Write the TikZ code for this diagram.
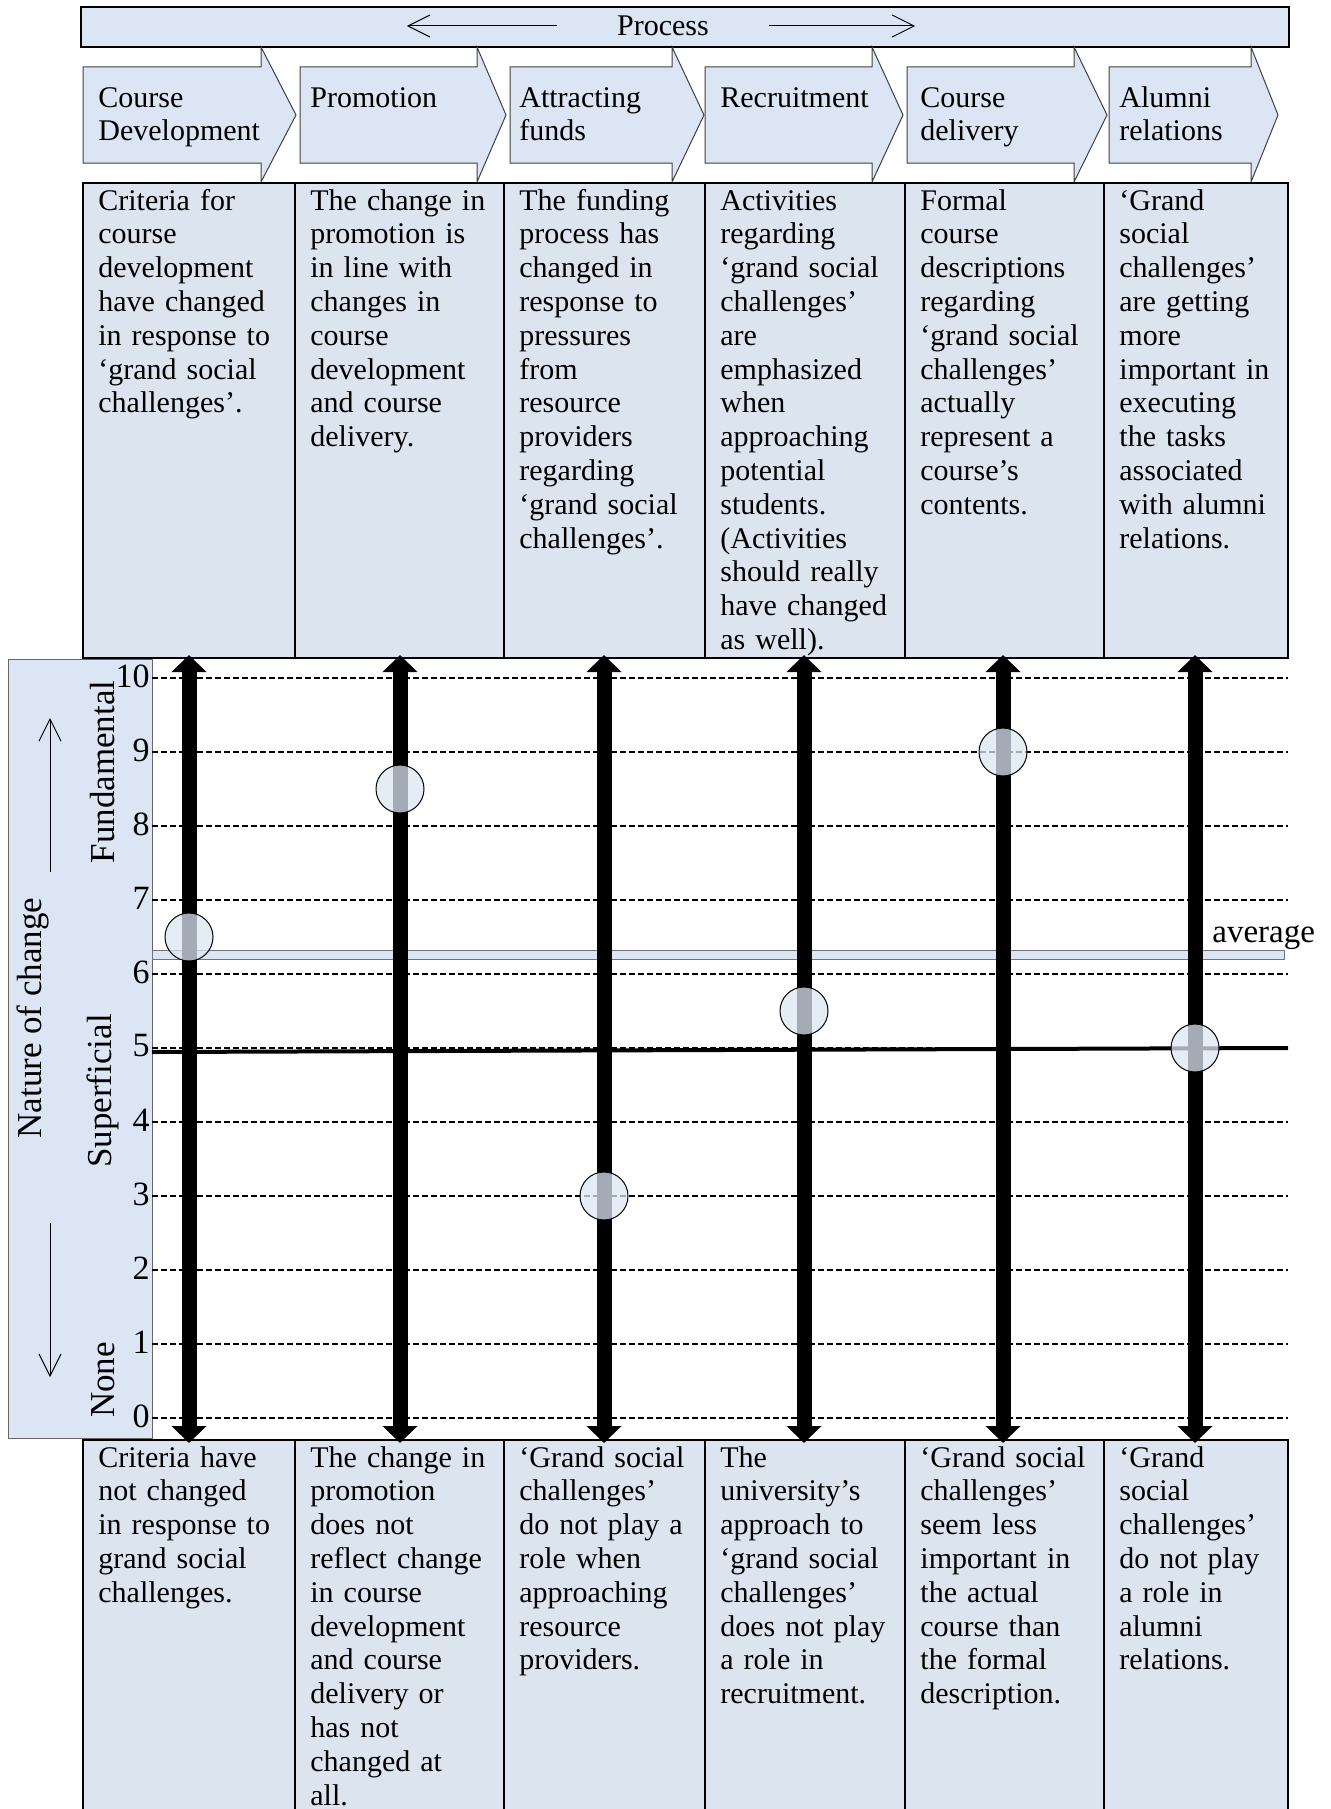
\documentclass[tikz,border=0pt]{standalone}
\usepackage{fontspec}
\setmainfont{Liberation Serif}
\usetikzlibrary{arrows.meta,positioning}
\definecolor{paleblue}{RGB}{219,229,243}
\definecolor{cellblue}{RGB}{220,228,240}

\begin{document}
\begin{tikzpicture}[x=0.5pt, y=-0.5pt,
		bar/.style={draw, line width=0.85pt, fill=paleblue, inner sep=0pt},
		chev/.style={draw=black!75, line width=0.5pt, fill=paleblue},
		cell/.style={draw, line width=0.8pt, fill=cellblue},
		txt/.style={anchor=north west, inner sep=0pt, text width=98pt, align=left, font=\fontsize{15}{16.9}\selectfont, execute at begin node={\strut}},
		gridline/.style={dash pattern=on 3pt off 1.5pt, line width=0.7pt},
		bigarrow/.style={line width=7.5pt, {Triangle[width=17pt,length=8.5pt]}-{Triangle[width=17pt,length=8.5pt]}},
		thinarrow/.style={line width=0.5pt, -{Straight Barb[length=11pt,width=11pt]}},
		score/.style={circle, draw, line width=0.5pt, fill=paleblue, fill opacity=0.75, minimum size=24pt, inner sep=0pt},
		numlab/.style={anchor=east, inner sep=0pt, font=\fontsize{17}{17}\selectfont},
		axislab/.style={rotate=90, inner sep=0pt, font=\fontsize{17.5}{17.5}\selectfont}]
	\useasboundingbox (0,0) rectangle (1330,1809);
	
	\node[bar, anchor=north west, minimum width=604pt, minimum height=20pt] (proc) at (80,6) {};
	\node[inner sep=0pt, font=\fontsize{15}{15}\selectfont] (plabel) at (663,26) {Process};
	\draw[thinarrow] ([xshift=-30pt]plabel.west) -- ++(-150,0);
	\draw[thinarrow] ([xshift=30pt]plabel.east) -- ++(146,0);
	
	\foreach \l/\n/\t/\c/\name [count=\i] in {83/261/296/83/{Course\\Development}, 300/477/506/295/Promotion, 510/672/704/504/{Attracting\\funds}, 705/872/903/705/Recruitment, 907/1074/1107/905/{Course\\delivery}, 1109/1251/1278/1104/{Alumni\\relations}} {
		\draw[chev] (\l,67) -- (\n,67) -- (\n,47) -- (\t,115) -- (\n,182) -- (\n,163) -- (\l,163) -- cycle;
		\node[txt] (ph\i) at (\c+15,83) {\name};
	}
	
	\foreach \a/\b in {83/295, 295/504, 504/705, 705/905, 905/1104, 1104/1288} {
		\draw[cell] (\a,183) rectangle (\b,658);
		\draw[cell] (\a,1440) rectangle (\b,1840);
	}
	
	\foreach \x/\desc [count=\i] in {
		83/{Criteria for\\course\\development\\have changed\\in response to\\‘grand social\\challenges’.},
		295/{The change in\\promotion is\\in line with\\changes in\\course\\development\\and course\\delivery.},
		504/{The funding\\process has\\changed in\\response to\\pressures\\from\\resource\\providers\\regarding\\‘grand social\\challenges’.},
		705/{Activities\\regarding\\‘grand social\\challenges’\\are\\emphasized\\when\\approaching\\potential\\students.\\(Activities\\should really\\have changed\\as well).},
		905/{Formal\\course\\descriptions\\regarding\\‘grand social\\challenges’\\actually\\represent a\\course’s\\contents.},
		1104/{‘Grand\\social\\challenges’\\are getting\\more\\important in\\executing\\the tasks\\associated\\with alumni\\relations.}}
		\node[txt] (top\i) at (\x+15,186) {\desc};
	
	\foreach \x/\desc [count=\i] in {
		83/{Criteria have\\not changed\\in response to\\grand social\\challenges.},
		295/{The change in\\promotion\\does not\\reflect change\\in course\\development\\and course\\delivery or\\has not\\changed at\\all.},
		504/{‘Grand social\\challenges’\\do not play a\\role when\\approaching\\resource\\providers.},
		705/{The\\university’s\\approach to\\‘grand social\\challenges’\\does not play\\a role in\\recruitment.},
		905/{‘Grand social\\challenges’\\seem less\\important in\\the actual\\course than\\the formal\\description.},
		1104/{‘Grand\\social\\challenges’\\do not play\\a role in\\alumni\\relations.}}
		\node[txt] (low\i) at (\x+15,1443) {\desc};
	
	\draw[fill=paleblue, draw=black!60, line width=0.5pt] (8,659) rectangle (152,1438);
	\foreach \v in {0,...,10} {
		\draw[gridline] (152,1418-74*\v) -- (1288,1418-74*\v);
		\node[numlab] (n\v) at (150,1416-74*\v) {\v};
	}
	\draw[fill=paleblue, draw=black!55, line width=0.5pt] (152,950) rectangle (1284,959);
	\node[anchor=base west, inner sep=0pt, font=\fontsize{16.5}{16.5}\selectfont] (avg) at (1212,942) {average};
	\draw[line width=2pt] (152,1052) -- (1288,1048);
	
	\foreach \x [count=\i] in {189,400,604,804,1003,1195} {
		\coordinate (hi\i) at (\x,655);
		\coordinate (lo\i) at (\x,1443);
		\draw[bigarrow] (lo\i) -- (hi\i);
	}
	\foreach \x/\v [count=\i] in {189/6.5, 400/8.5, 604/3, 804/5.5, 1003/9, 1195/5}
		\node[score] (val\i) at (\x,1418-74*\v) {};
	
	\node[axislab] (fund) at (103,772) {Fundamental};
	\node[axislab] (superf) at (103,1091) {Superficial};
	\node[axislab] (none) at (103,1380) {None};
	\node[axislab] (nature) at (33,1018) {Nature of change};
	\coordinate (upfrom) at (50,872);
	\coordinate (upto) at (50,718);
	\coordinate (downfrom) at (50,1223);
	\coordinate (downto) at (50,1377);
	\draw[thinarrow] (upfrom) -- (upto);
	\draw[thinarrow] (downfrom) -- (downto);
\end{tikzpicture}
\end{document}
